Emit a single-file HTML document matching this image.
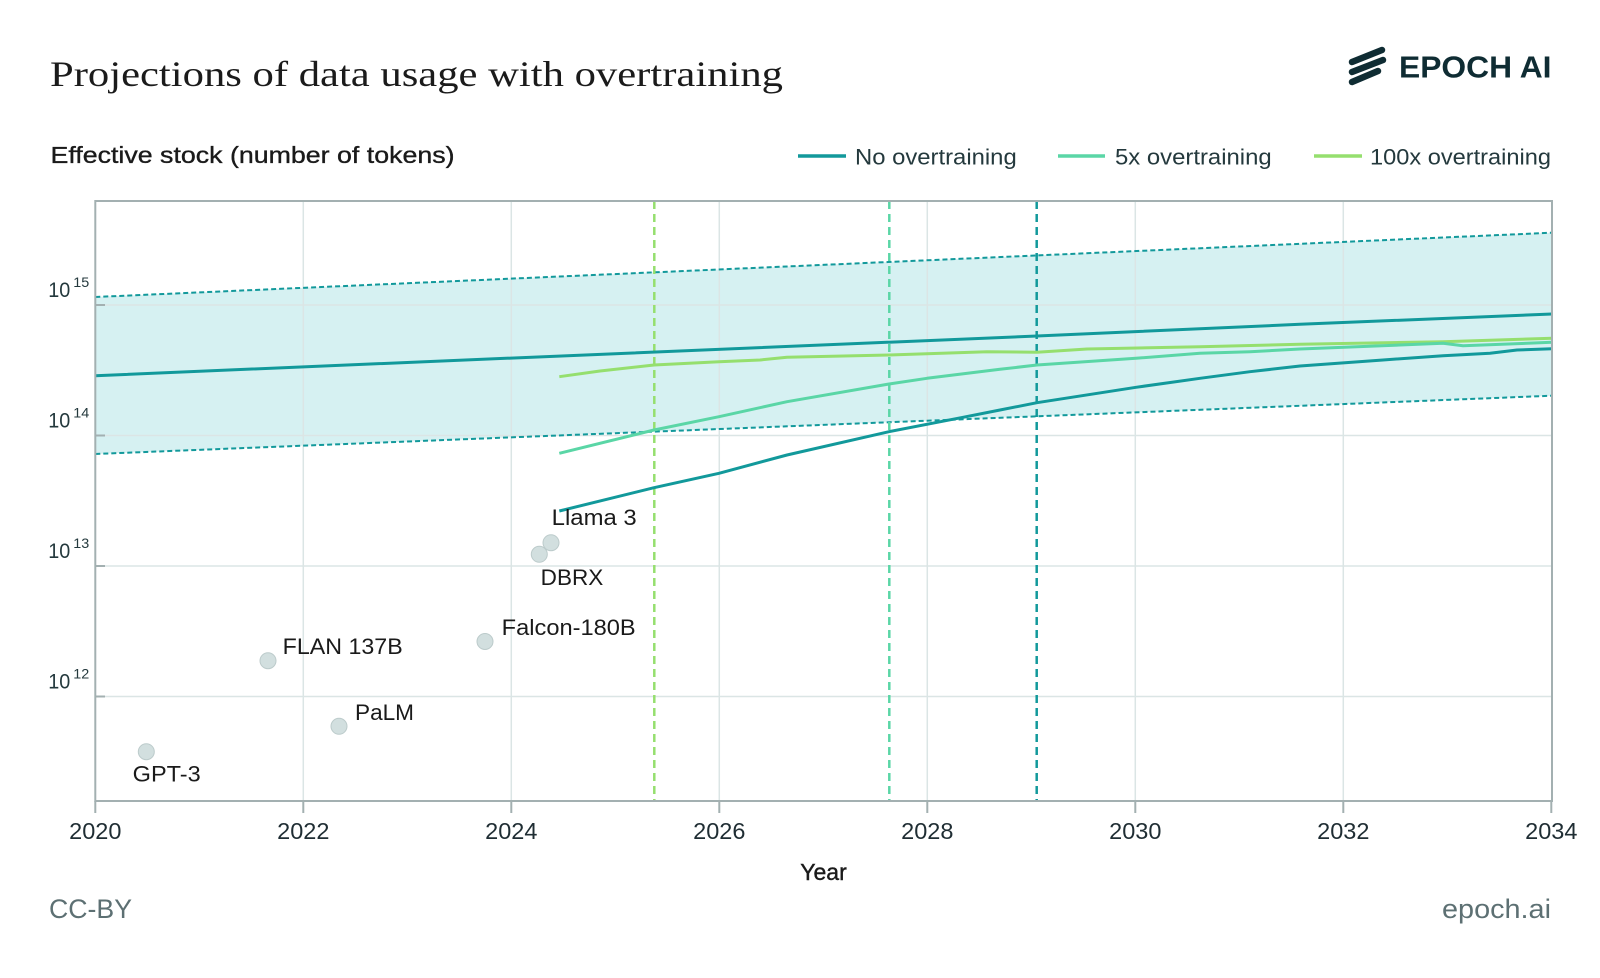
<!DOCTYPE html>
<html>
<head>
<meta charset="utf-8">
<style>
  html, body { margin:0; padding:0; background:#ffffff; }
  body { width:1600px; height:978px; overflow:hidden; }
  svg { display:block; }
  .sans { font-family: "Liberation Sans", "DejaVu Sans", sans-serif; }
  .serif { font-family: "Liberation Serif", "DejaVu Serif", serif; }
</style>
</head>
<body>
<svg width="1600" height="978" viewBox="0 0 1600 978" xmlns="http://www.w3.org/2000/svg">
  <rect x="0" y="0" width="1600" height="978" fill="#ffffff"/>

  <!-- Title -->
  <text class="serif" x="50" y="86" font-size="36" fill="#1b1b1b" textLength="733" lengthAdjust="spacingAndGlyphs">Projections of data usage with overtraining</text>

  <!-- Logo -->
  <g stroke="#0f2c33" stroke-width="6.5" stroke-linecap="round" fill="none">
    <line x1="1352" y1="62" x2="1382" y2="50"/>
    <line x1="1352" y1="72" x2="1383" y2="60"/>
    <line x1="1352" y1="82" x2="1378" y2="71"/>
  </g>
  <text class="sans" x="1399" y="77.5" font-size="30.5" font-weight="bold" fill="#0f2c33" textLength="152.5" lengthAdjust="spacingAndGlyphs">EPOCH AI</text>

  <!-- Y axis title -->
  <text class="sans" x="50.5" y="163" font-size="23" fill="#1a1a1a" stroke="#1a1a1a" stroke-width="0.35" textLength="404" lengthAdjust="spacingAndGlyphs">Effective stock (number of tokens)</text>

  <!-- Legend -->
  <line x1="798" y1="156" x2="846" y2="156" stroke="#12999b" stroke-width="3.5"/>
  <text class="sans" x="855" y="164.5" font-size="22" fill="#24393d" textLength="161.7" lengthAdjust="spacingAndGlyphs">No overtraining</text>
  <line x1="1058" y1="156" x2="1105" y2="156" stroke="#5ad6a6" stroke-width="3.5"/>
  <text class="sans" x="1115" y="164.5" font-size="22" fill="#24393d" textLength="156.7" lengthAdjust="spacingAndGlyphs">5x overtraining</text>
  <line x1="1314" y1="156" x2="1362" y2="156" stroke="#95df6e" stroke-width="3.5"/>
  <text class="sans" x="1370" y="164.5" font-size="22" fill="#24393d" textLength="181" lengthAdjust="spacingAndGlyphs">100x overtraining</text>

  <!-- Band -->
  <polygon points="95.3,297 1552,232.7 1552,395.7 95.3,454" fill="#d6f1f2"/>

  <!-- Grid -->
  <g stroke="#dbe5e5" stroke-width="1.5">
    <line x1="303.3" y1="201" x2="303.3" y2="801"/>
    <line x1="511.3" y1="201" x2="511.3" y2="801"/>
    <line x1="719.3" y1="201" x2="719.3" y2="801"/>
    <line x1="927.3" y1="201" x2="927.3" y2="801"/>
    <line x1="1135.3" y1="201" x2="1135.3" y2="801"/>
    <line x1="1343.3" y1="201" x2="1343.3" y2="801"/>
    <line x1="95.3" y1="305" x2="1552" y2="305"/>
    <line x1="95.3" y1="435.5" x2="1552" y2="435.5"/>
    <line x1="95.3" y1="566" x2="1552" y2="566"/>
    <line x1="95.3" y1="696.5" x2="1552" y2="696.5"/>
  </g>

  <!-- Band dashed bounds -->
  <line x1="95.3" y1="297" x2="1552" y2="232.7" stroke="#12999b" stroke-width="2" stroke-dasharray="5 3"/>
  <line x1="95.3" y1="454" x2="1552" y2="395.7" stroke="#12999b" stroke-width="2" stroke-dasharray="5 3"/>

  <!-- Vertical dashed markers -->
  <line x1="654.3" y1="201" x2="654.3" y2="801" stroke="#95df6e" stroke-width="2.5" stroke-dasharray="8 5"/>
  <line x1="889.3" y1="201" x2="889.3" y2="801" stroke="#5ad6a6" stroke-width="2.5" stroke-dasharray="8 5"/>
  <line x1="1036.7" y1="201" x2="1036.7" y2="801" stroke="#12999b" stroke-width="2.5" stroke-dasharray="8 5"/>

  <!-- Series -->
  <polyline fill="none" stroke="#12999b" stroke-width="3" stroke-linejoin="round"
    points="95.3,375.7 520,357.7 1037,336 1300,324.3 1552,314"/>
  <polyline fill="none" stroke="#95df6e" stroke-width="3" stroke-linejoin="round"
    points="559.3,376.7 600,371 654,365 719,361.7 760,360 787,357.3 889,355 987,351.7 1037,352.3 1087,349 1200,346.7 1300,344.3 1443,341.7 1552,338.3"/>
  <polyline fill="none" stroke="#5ad6a6" stroke-width="3" stroke-linejoin="round"
    points="559.3,453.3 654,430 719,416.7 787,401.7 889,384 927,378.3 1000,369.3 1037,365 1136,358.3 1200,353.3 1250,351.7 1300,349 1443,343.3 1463,345.7 1552,342.3"/>
  <polyline fill="none" stroke="#12999b" stroke-width="3" stroke-linejoin="round"
    points="559.3,511 654,487.7 719,473.3 787,455 889,431.7 963,417.3 1000,410 1037,402.7 1136,387.3 1200,378.3 1250,371.7 1300,366 1383,360 1443,355.7 1490,353.3 1517,350 1552,348.7"/>

  <!-- Scatter points -->
  <g fill="#d2dfdf" stroke="#bccbcb" stroke-width="1">
    <circle cx="146.3" cy="751.7" r="8"/>
    <circle cx="268" cy="660.7" r="8"/>
    <circle cx="339" cy="726.3" r="8"/>
    <circle cx="485" cy="641.5" r="8"/>
    <circle cx="539.3" cy="554.3" r="8"/>
    <circle cx="551" cy="542.7" r="8"/>
  </g>

  <!-- Scatter labels -->
  <g class="sans" font-size="22.5" fill="#1a1a1a">
    <text x="132.7" y="781.7" textLength="68" lengthAdjust="spacingAndGlyphs">GPT-3</text>
    <text x="355" y="720" textLength="59" lengthAdjust="spacingAndGlyphs">PaLM</text>
    <text x="282.7" y="654" textLength="120" lengthAdjust="spacingAndGlyphs">FLAN 137B</text>
    <text x="501.7" y="635" textLength="134" lengthAdjust="spacingAndGlyphs">Falcon-180B</text>
    <text x="540.7" y="585" textLength="62.6" lengthAdjust="spacingAndGlyphs">DBRX</text>
    <text x="551.7" y="525" textLength="85" lengthAdjust="spacingAndGlyphs">Llama 3</text>
  </g>

  <!-- Plot frame -->
  <rect x="95.3" y="201" width="1456.7" height="600" fill="none" stroke="#a3b0b1" stroke-width="2"/>

  <!-- Ticks -->
  <g stroke="#a3b0b1" stroke-width="2">
    <line x1="95.3" y1="305" x2="105" y2="305"/>
    <line x1="95.3" y1="435.5" x2="105" y2="435.5"/>
    <line x1="95.3" y1="566" x2="105" y2="566"/>
    <line x1="95.3" y1="696.5" x2="105" y2="696.5"/>
    <line x1="95.3" y1="801" x2="95.3" y2="813"/>
    <line x1="303.3" y1="801" x2="303.3" y2="813"/>
    <line x1="511.3" y1="801" x2="511.3" y2="813"/>
    <line x1="719.3" y1="801" x2="719.3" y2="813"/>
    <line x1="927.3" y1="801" x2="927.3" y2="813"/>
    <line x1="1135.3" y1="801" x2="1135.3" y2="813"/>
    <line x1="1343.3" y1="801" x2="1343.3" y2="813"/>
    <line x1="1551.3" y1="801" x2="1551.3" y2="813"/>
  </g>

  <!-- Y tick labels -->
  <g class="sans" fill="#24393d">
    <text x="48.3" y="297" font-size="21" textLength="22" lengthAdjust="spacingAndGlyphs">10</text>
    <text x="73.3" y="287" font-size="14" textLength="16" lengthAdjust="spacingAndGlyphs">15</text>
    <text x="48.3" y="427.5" font-size="21" textLength="22" lengthAdjust="spacingAndGlyphs">10</text>
    <text x="73.3" y="417.5" font-size="14" textLength="16" lengthAdjust="spacingAndGlyphs">14</text>
    <text x="48.3" y="558" font-size="21" textLength="22" lengthAdjust="spacingAndGlyphs">10</text>
    <text x="73.3" y="548" font-size="14" textLength="16" lengthAdjust="spacingAndGlyphs">13</text>
    <text x="48.3" y="688.5" font-size="21" textLength="22" lengthAdjust="spacingAndGlyphs">10</text>
    <text x="73.3" y="678.5" font-size="14" textLength="16" lengthAdjust="spacingAndGlyphs">12</text>
  </g>

  <!-- X tick labels -->
  <g class="sans" font-size="23.5" fill="#1f2d33" text-anchor="middle">
    <text x="95.3" y="839">2020</text>
    <text x="303.3" y="839">2022</text>
    <text x="511.3" y="839">2024</text>
    <text x="719.3" y="839">2026</text>
    <text x="927.3" y="839">2028</text>
    <text x="1135.3" y="839">2030</text>
    <text x="1343.3" y="839">2032</text>
    <text x="1551.3" y="839">2034</text>
  </g>

  <!-- X axis title -->
  <text class="sans" x="823.5" y="880" font-size="23" fill="#1a1a1a" stroke="#1a1a1a" stroke-width="0.4" text-anchor="middle">Year</text>

  <!-- Footer -->
  <text class="sans" x="49" y="918" font-size="27" fill="#5d7073" textLength="83" lengthAdjust="spacingAndGlyphs">CC-BY</text>
  <text class="sans" x="1442" y="918" font-size="27" fill="#5d7073" textLength="109" lengthAdjust="spacingAndGlyphs">epoch.ai</text>
</svg>
</body>
</html>
